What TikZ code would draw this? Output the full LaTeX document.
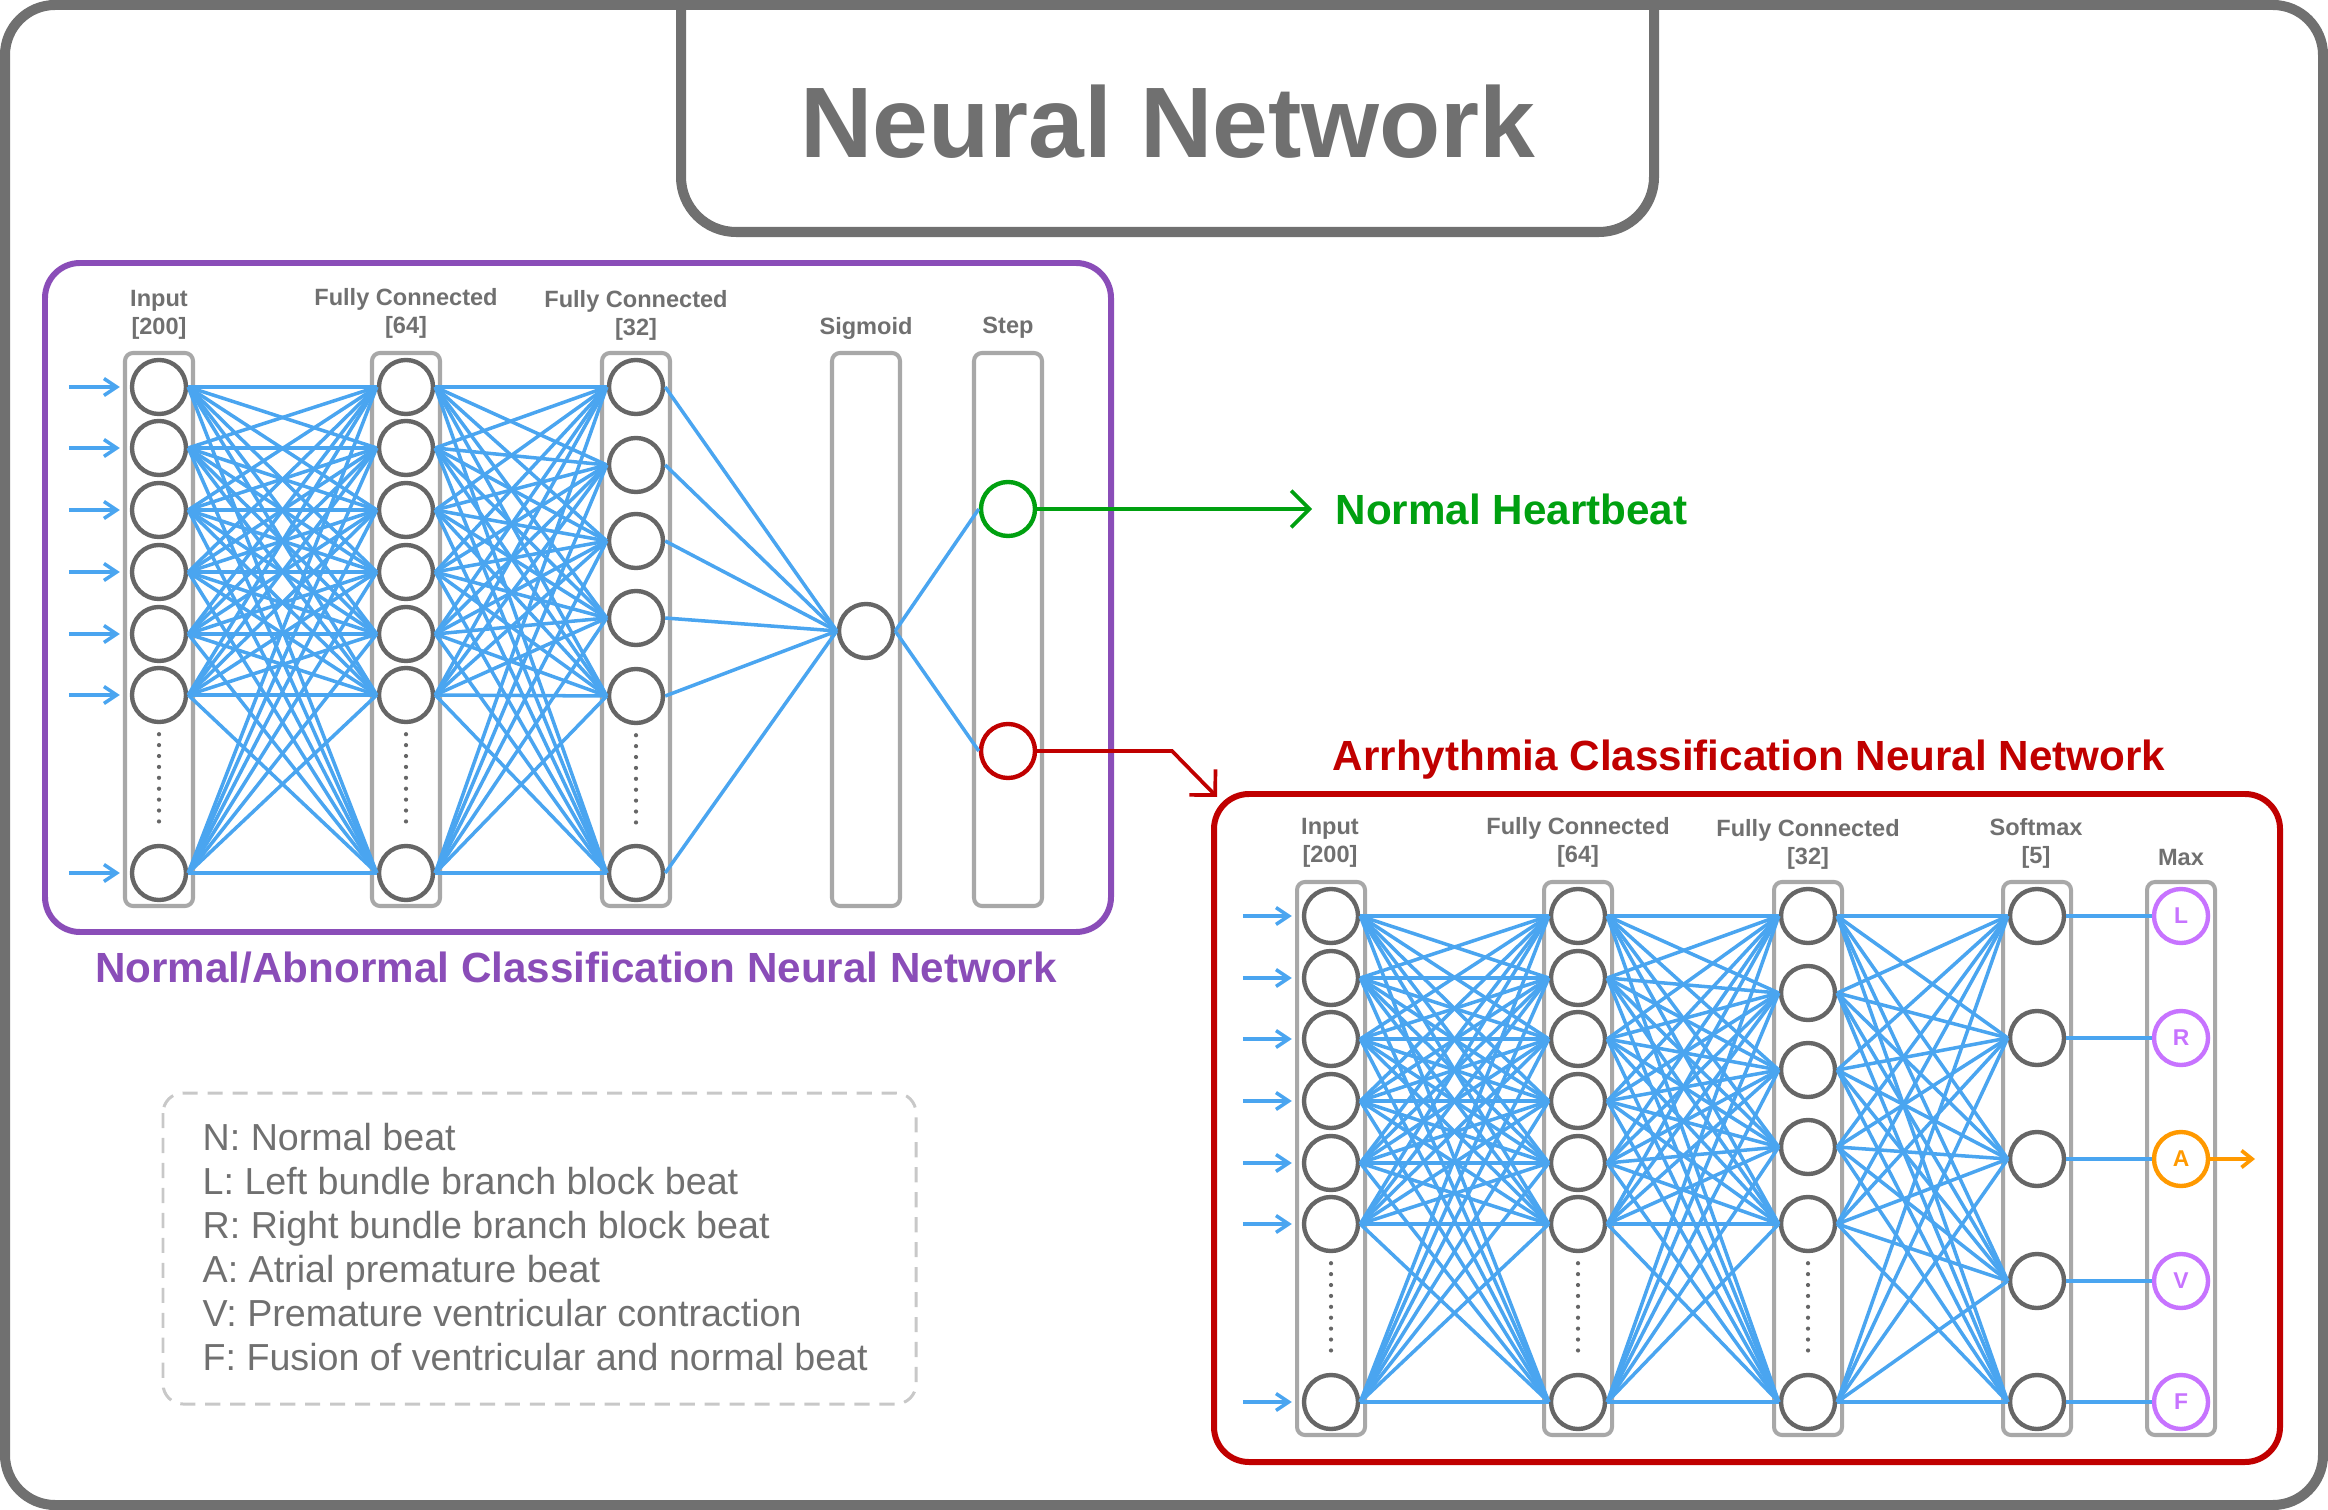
\documentclass[tikz,border=0pt]{standalone}
\usepackage{fontspec}
\setmainfont{Liberation Sans}
\usetikzlibrary{arrows.meta}

\definecolor{framegray}{RGB}{112,112,112}
\definecolor{colgray}{RGB}{168,168,168}
\definecolor{nodegray}{RGB}{102,102,102}
\definecolor{linkblue}{RGB}{74,165,240}
\definecolor{boxpurple}{RGB}{138,77,184}
\definecolor{boxred}{RGB}{192,0,0}
\definecolor{okgreen}{RGB}{0,160,16}
\definecolor{maxpurple}{RGB}{199,115,255}
\definecolor{maxorange}{RGB}{255,153,0}
\definecolor{dashgray}{RGB}{200,200,200}

\tikzset{
  neuron/.style={draw=nodegray, circle, line width=1.25pt, minimum size=0.54cm, inner sep=0pt},
  column/.style={draw=colgray, line width=1.15pt, rounded corners=0.08cm},
  link/.style={linkblue, line width=1pt},
  inarrow/.style={linkblue, line width=1pt, -{Straight Barb[length=3.6pt, width=4.8pt]}},
  layerlabel/.style={text=framegray, font=\fontsize{6.7}{8}\selectfont\bfseries, align=center},
  dotline/.style={nodegray, line width=1.2pt, line cap=round, dash pattern=on 0pt off 3.1pt},
  outneuron/.style={neuron, draw=maxpurple, text=maxpurple, font=\fontsize{6.5}{7}\selectfont\bfseries},
  nettitle/.style={font=\fontsize{12}{14}\selectfont\bfseries},
  legend/.style={text=framegray, font=\fontsize{10.7}{12.5}\selectfont, inner sep=0pt},
}

\begin{document}
\begin{tikzpicture}[x=0.01cm, y=-0.01cm]
\useasboundingbox (0,0) rectangle (2328,1510);

% frame and title
\draw[framegray, line width=2.85pt, rounded corners=0.5cm] (5,5) rectangle (2323,1505);
\draw[framegray, line width=2.85pt, rounded corners=0.55cm] (681,5) -- (681,232) -- (1654,232) -- (1654,5);
\node[text=framegray, font=\fontsize{28.5}{34}\selectfont\bfseries] (title) at (1168,122) {Neural Network};

% normal/abnormal network
\draw[boxpurple, line width=1.7pt, rounded corners=0.35cm] (45,263) rectangle (1111,932);
\node[nettitle, text=boxpurple] (leftname) at (576,968) {Normal/Abnormal Classification Neural Network};

\draw[column] (125,353) rectangle (193,906);
\draw[column] (372,353) rectangle (440,906);
\draw[column] (602,353) rectangle (670,906);
\draw[column] (832,353) rectangle (900,906);
\draw[column] (974,353) rectangle (1042,906);

\node[layerlabel] (lli) at (159,315) {Input\\{[200]}};
\node[layerlabel] (llh) at (406,313) {Fully Connected\\{[64]}};
\node[layerlabel] (llk) at (636,315) {Fully Connected\\{[32]}};
\node[layerlabel] (lls) at (866,328) {Sigmoid};
\node[layerlabel] (llt) at (1008,328) {Step};

\foreach \y [count=\i] in {387,448,510,572,634,695,873} {
  \node[neuron] (li\i) at (159,\y) {};
  \node[neuron] (lh\i) at (406,\y) {};
}
\foreach \y [count=\i] in {387,465,541,618,696,873}
  \node[neuron] (lk\i) at (636,\y) {};
\node[neuron] (ls) at (866,631) {};
\node[neuron, draw=okgreen] (lgood) at (1008,509) {};
\node[neuron, draw=boxred] (lbad) at (1008,751) {};

\draw[dotline] ([yshift=-0.1cm]li6.south) -- ([yshift=0.14cm]li7.north);
\draw[dotline] ([yshift=-0.1cm]lh6.south) -- ([yshift=0.14cm]lh7.north);
\draw[dotline] ([yshift=-0.1cm]lk5.south) -- ([yshift=0.14cm]lk6.north);

\foreach \a in {1,...,7} {
  \draw[inarrow] ([xshift=-0.61cm]li\a.west) -- ([xshift=-0.1cm]li\a.west);
  \foreach \b in {1,...,7}
    \draw[link] (li\a.east) -- (lh\b.west);
  \foreach \b in {1,...,6}
    \draw[link] (lh\a.east) -- (lk\b.west);
}
\foreach \a in {1,...,6}
  \draw[link] (lk\a.east) -- (ls.west);
\draw[link] (ls.east) -- (lgood.west);
\draw[link] (ls.east) -- (lbad.west);

% outputs of the first network
\node[nettitle, text=okgreen, anchor=west, inner sep=0pt] (normal) at (1335,509) {Normal Heartbeat};
\draw[okgreen, line width=1.05pt, shorten >=0.23cm, -{Straight Barb[length=5.2pt, width=10.4pt]}] (lgood.east) -- (lgood.east -| normal.west);

\coordinate (redbend) at (1172,751);
\coordinate (redtip) at (1217,797);
\draw[boxred, line width=1.05pt, -{Straight Barb[length=5.2pt, width=10.4pt]}] (lbad.east) -- (redbend) -- (redtip);

% arrhythmia network
\draw[boxred, line width=1.7pt, rounded corners=0.35cm] (1214,794) rectangle (2280,1462);
\node[nettitle, text=boxred] (rightname) at (1749,760) {Arrhythmia Classification Neural Network};

\draw[column] (1297,882) rectangle (1365,1435);
\draw[column] (1544,882) rectangle (1612,1435);
\draw[column] (1774,882) rectangle (1842,1435);
\draw[column] (2003,882) rectangle (2071,1435);
\draw[column] (2147,882) rectangle (2215,1435);

\node[layerlabel] (rli) at (1330,843) {Input\\{[200]}};
\node[layerlabel] (rlh) at (1578,842) {Fully Connected\\{[64]}};
\node[layerlabel] (rlk) at (1808,844) {Fully Connected\\{[32]}};
\node[layerlabel] (rls) at (2036,843) {Softmax\\{[5]}};
\node[layerlabel] (rlm) at (2181,858) {Max};

\foreach \y [count=\i] in {916,978,1039,1101,1163,1224,1402} {
  \node[neuron] (ri\i) at (1331,\y) {};
  \node[neuron] (rh\i) at (1578,\y) {};
}
\foreach \y [count=\i] in {916,993,1070,1147,1224,1402}
  \node[neuron] (rk\i) at (1808,\y) {};
\foreach \y [count=\i] in {916,1038,1159,1281,1402}
  \node[neuron] (rs\i) at (2037,\y) {};

\node[outneuron] (rm1) at (2181,916) {L};
\node[outneuron] (rm2) at (2181,1038) {R};
\node[outneuron, draw=maxorange, text=maxorange] (rm3) at (2181,1159) {A};
\node[outneuron] (rm4) at (2181,1281) {V};
\node[outneuron] (rm5) at (2181,1402) {F};

\draw[dotline] ([yshift=-0.1cm]ri6.south) -- ([yshift=0.13cm]ri7.north);
\draw[dotline] ([yshift=-0.1cm]rh6.south) -- ([yshift=0.13cm]rh7.north);
\draw[dotline] ([yshift=-0.1cm]rk5.south) -- ([yshift=0.13cm]rk6.north);

\foreach \a in {1,...,7} {
  \draw[inarrow] ([xshift=-0.59cm]ri\a.west) -- ([xshift=-0.1cm]ri\a.west);
  \foreach \b in {1,...,7}
    \draw[link] (ri\a.east) -- (rh\b.west);
  \foreach \b in {1,...,6}
    \draw[link] (rh\a.east) -- (rk\b.west);
}
\foreach \a in {1,...,6}
  \foreach \b in {1,...,5}
    \draw[link] (rk\a.east) -- (rs\b.west);
\foreach \a in {1,...,5}
  \draw[link] (rs\a.east) -- (rm\a.west);

\coordinate (aout) at (2255,1159);
\draw[maxorange, line width=1.05pt, -{Straight Barb[length=3pt, width=4.8pt]}] (rm3.east) -- (aout);

% legend
\draw[dashgray, line width=0.85pt, dash pattern=on 4.3pt off 2.8pt, rounded corners=0.2cm] (163,1093) rectangle (916,1404);
\foreach \t [count=\i] in {N: Normal beat, L: Left bundle branch block beat, R: Right bundle branch block beat, A: Atrial premature beat, V: Premature ventricular contraction, F: Fusion of ventricular and normal beat}
  \node[legend, anchor=base west] (leg\i) at (202,{1150.7+43.9*(\i-1)}) {\t};

\end{tikzpicture}
\end{document}
